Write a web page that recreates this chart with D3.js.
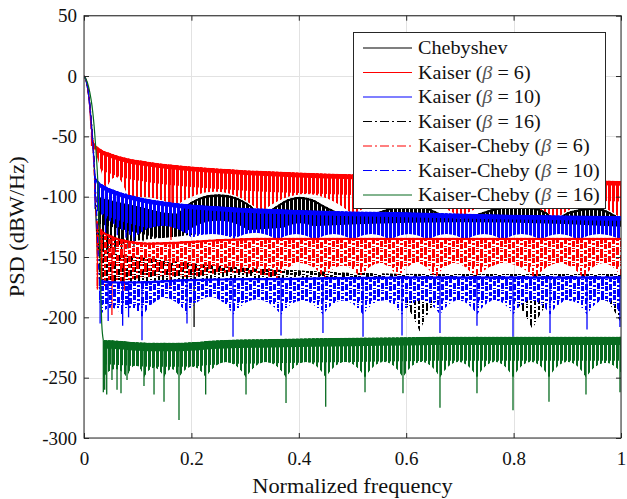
<!DOCTYPE html>
<html>
<head>
<meta charset="utf-8">
<script src="https://cdn.jsdelivr.net/npm/d3@7"></script>
<style>
  body { margin: 0; background: #fff; }
  svg { display: block; }
  text { font-family: "Liberation Serif", "Times New Roman", serif; }
</style>
</head>
<body>
<svg id="chart" width="627" height="499"></svg>
<script>
// ---------- axis ticks ----------
const xTicks = [0, 0.2, 0.4, 0.6, 0.8, 1];
const yTicks = [50, 0, -50, -100, -150, -200, -250, -300];
const xTickLabels = ["0", "0.2", "0.4", "0.6", "0.8", "1"];

// ---------- series names (legend order = drawing order) ----------
const seriesNames = [
  "Chebyshev",
  "Kaiser (β = 6)",
  "Kaiser (β = 10)",
  "Kaiser (β = 16)",
  "Kaiser-Cheby (β = 6)",
  "Kaiser-Cheby (β = 10)",
  "Kaiser-Cheby (β = 16)"
];

// Each spectrum: main lobe [f, dB], upper sidelobe envelope [f, dB],
// scalloped floor (cusp frequencies, cusp levels, arch-top levels),
// and isolated deep nulls (frequency, depth).

// Chebyshev
const chebyLobe = [[0,0],[0.004,-4],[0.008,-14],[0.012,-30],[0.016,-52],[0.019,-75],[0.021,-100],[0.023,-125],[0.025,-148]];
const chebyUpper = [[0.025,-100],[0.06,-104],[0.1,-108],[0.17,-114],[0.19,-107],[0.22,-100],[0.25,-98],[0.28,-100],[0.31,-107],[0.33,-114],[0.36,-107],[0.38,-102],[0.402,-100],[0.425,-102],[0.45,-108],[0.5,-116],[0.565,-110],[0.59,-105],[0.607,-104],[0.625,-105],[0.645,-110],[0.7,-118],[0.747,-112],[0.78,-108],[0.803,-107],[0.83,-108],[0.858,-112],[0.88,-118],[0.9,-113],[0.925,-110],[0.946,-109],[0.965,-110],[0.98,-113],[1,-118]];
const chebyCuspF = [0.025, 0.11, 1];
const chebyCuspDb = [-148, -136, -125];
const chebyDomeDb = [-140, -122];
const chebySpikeF = [0.03, 0.045, 0.058, 0.07, 0.082, 0.093, 0.11];
const chebySpikeDb = [-150, -148, -146, -147, -143, -142, -137];

// Kaiser beta = 6
const k6Lobe = [[0,0],[0.004,-3],[0.008,-12],[0.011,-27],[0.013,-44]];
const k6Upper = [[0.013,-44],[0.016,-52],[0.02,-56],[0.03,-60],[0.05,-64],[0.08,-68],[0.12,-71],[0.2,-75],[0.3,-78],[0.4,-80],[0.5,-81.5],[0.6,-83],[0.7,-84],[0.8,-85],[0.9,-86],[1,-87]];
const k6CuspF = [0.013, 0.04, 0.082, 0.17, 0.33, 0.5, 0.7, 0.88, 1];
const k6CuspDb = [-55, -96, -102, -108, -113, -115, -117, -118, -118];
const k6DomeDb = [-70, -84, -101, -96, -98, -102, -105, -107];
const k6SpikeF = [0.014, 0.017, 0.162];
const k6SpikeDb = [-58, -62, -136];

// Kaiser beta = 10
const k10Lobe = [[0,0],[0.004,-4],[0.008,-14],[0.012,-32],[0.015,-50],[0.018,-68],[0.019,-76]];
const k10Upper = [[0.019,-76],[0.022,-83],[0.027,-87],[0.035,-90],[0.06,-95],[0.1,-100],[0.15,-104],[0.25,-108],[0.4,-111],[0.6,-113],[0.8,-115],[1,-116]];
const k10CuspF = [0.019, 0.093, 0.2, 0.28, 0.36, 0.43, 0.5, 0.57, 0.64, 0.71, 0.78, 0.85, 0.92, 1];
const k10CuspDb = [-110, -134, -134, -135, -136, -136, -136, -136, -136, -136, -136, -136, -136, -136];
const k10DomeDb = [-123, -124, -131, -130, -131, -131, -131, -131, -131, -131, -131, -131, -131];
const k10SpikeF = [0.04, 0.062, 0.078, 0.093];
const k10SpikeDb = [-130, -132, -134, -138];

// Kaiser beta = 16
const k16Lobe = [[0,0],[0.005,-5],[0.01,-20],[0.015,-45],[0.019,-72],[0.022,-100],[0.025,-128],[0.027,-142]];
const k16Upper = [[0.027,-142],[0.04,-145],[0.07,-148],[0.12,-151],[0.2,-155],[0.3,-159],[0.4,-161],[0.5,-163],[0.7,-164],[1,-164]];
const k16CuspF = [0.027, 0.58, 0.625, 0.67, 0.79, 0.835, 0.88, 0.96, 1];
const k16CuspDb = [-176, -180, -212, -180, -180, -210, -180, -180, -205];
const k16DomeDb = [-178, -192, -192, -180, -192, -192, -180, -190];
const k16SpikeF = [0.205];
const k16SpikeDb = [-208];

// Kaiser-Chebyshev beta = 6
const kc6Lobe = [[0,0],[0.004,-4],[0.008,-14],[0.012,-32],[0.016,-55],[0.019,-80],[0.021,-100],[0.023,-118]];
const kc6Upper = [[0.023,-118],[0.03,-126],[0.05,-132],[0.08,-136],[0.12,-138],[0.18,-137],[0.25,-135],[0.35,-134],[0.5,-134],[0.7,-134],[1,-134]];
const kc6CuspF = [0.023, 0.2, 0.36, 0.448, 0.515, 0.585, 0.654, 0.728, 0.84, 0.93, 1];
const kc6CuspDb = [-176, -167, -168, -168, -168, -168, -168, -168, -168, -168, -166];
const kc6DomeDb = [-167, -163, -155, -157, -155, -155, -155, -155, -155, -155];
const kc6SpikeF = [0.025, 0.033, 0.052, 0.075, 0.16];
const kc6SpikeDb = [-177, -172, -198, -178, -175];

// Kaiser-Chebyshev beta = 10
const kc10Lobe = [[0,0],[0.005,-5],[0.01,-20],[0.014,-40],[0.018,-65],[0.022,-100],[0.025,-130],[0.028,-168]];
const kc10Upper = [[0.028,-168],[0.05,-170],[0.1,-170],[0.2,-168],[0.4,-167],[0.6,-166],[1,-166]];
const kc10CuspF = [0.028, 0.07, 0.108, 0.1918, 0.2775, 0.3669, 0.445, 0.5196, 0.5922, 0.6629, 0.7318, 0.7989, 0.8678, 0.9367, 1];
const kc10CuspDb = [-200, -198, -200, -198, -198, -198, -198, -198, -198, -198, -198, -198, -198, -198, -198];
const kc10DomeDb = [-192, -192, -184, -183, -185, -186, -186, -186, -186, -186, -186, -186, -186, -186];
const kc10SpikeF = [0.03, 0.045, 0.072, 0.083, 0.108, 0.1918, 0.2775, 0.3669, 0.445, 0.5196, 0.5922, 0.6629, 0.7318, 0.7989, 0.8678, 0.9367, 0.998];
const kc10SpikeDb = [-205, -203, -207, -200, -219, -205, -216, -215, -213, -216, -215, -213, -207, -216, -213, -210, -208];

// Kaiser-Chebyshev beta = 16
const kc16Lobe = [[0,0],[0.006,-5],[0.011,-14],[0.015,-25],[0.019,-42],[0.022,-60],[0.026,-90],[0.03,-150],[0.033,-205],[0.036,-219]];
const kc16Upper = [[0.036,-219],[0.05,-219],[0.08,-220],[0.12,-221],[0.18,-221],[0.25,-219],[0.35,-218],[0.5,-217],[0.7,-216],[1,-216]];
const kc16CuspF = [0.036, 0.0801, 0.1117, 0.149, 0.1769, 0.2266, 0.3017, 0.3762, 0.4501, 0.5233, 0.594, 0.6629, 0.7318, 0.7989, 0.8659, 0.9348, 1];
const kc16CuspDb = [-250, -250, -250, -250, -250, -250, -250, -250, -250, -250, -250, -250, -250, -250, -250, -250, -246];
const kc16DomeDb = [-243, -240, -242, -243, -241, -237, -237, -237, -237, -237, -237, -237, -237, -237, -237, -238];
const kc16SpikeF = [0.036, 0.0385, 0.0423, 0.0521, 0.0615, 0.0689, 0.0801, 0.1117, 0.1304, 0.149, 0.1769, 0.2266, 0.3017, 0.3762, 0.4501, 0.5233, 0.594, 0.6629, 0.7318, 0.7989, 0.8659, 0.9348, 0.9981];
const kc16SpikeDb = [-262, -260, -264, -252, -260, -263, -252, -257, -264, -270, -285, -264, -264, -271, -274, -262, -263, -275, -263, -277, -270, -264, -262];

// ---------- styles ----------
// core: solid depth (dB) under the upper envelope; dense: depth of the tight hatching
const seriesStyles = [
  { color: "#000000", dashed: false, offset: 2, core: 2, dense: 22 },
  { color: "#ff0000", dashed: false, offset: 0, core: 4, dense: 17 },
  { color: "#0000ff", dashed: false, offset: 1, core: 4, dense: 24 },
  { color: "#000000", dashed: true,  offset: 2, core: 0, dense: 4 },
  { color: "#ff0000", dashed: true,  offset: 0, core: 2, dense: 24 },
  { color: "#0000ff", dashed: true,  offset: 1, core: 2, dense: 20 },
  { color: "#076b1f", dashed: false, offset: 0, core: 7, dense: 20 }
];

const seriesData = [
  { lobe: chebyLobe, upper: chebyUpper, cuspF: chebyCuspF, cuspDb: chebyCuspDb, domeDb: chebyDomeDb, spikeF: chebySpikeF, spikeDb: chebySpikeDb },
  { lobe: k6Lobe, upper: k6Upper, cuspF: k6CuspF, cuspDb: k6CuspDb, domeDb: k6DomeDb, spikeF: k6SpikeF, spikeDb: k6SpikeDb },
  { lobe: k10Lobe, upper: k10Upper, cuspF: k10CuspF, cuspDb: k10CuspDb, domeDb: k10DomeDb, spikeF: k10SpikeF, spikeDb: k10SpikeDb },
  { lobe: k16Lobe, upper: k16Upper, cuspF: k16CuspF, cuspDb: k16CuspDb, domeDb: k16DomeDb, spikeF: k16SpikeF, spikeDb: k16SpikeDb },
  { lobe: kc6Lobe, upper: kc6Upper, cuspF: kc6CuspF, cuspDb: kc6CuspDb, domeDb: kc6DomeDb, spikeF: kc6SpikeF, spikeDb: kc6SpikeDb },
  { lobe: kc10Lobe, upper: kc10Upper, cuspF: kc10CuspF, cuspDb: kc10CuspDb, domeDb: kc10DomeDb, spikeF: kc10SpikeF, spikeDb: kc10SpikeDb },
  { lobe: kc16Lobe, upper: kc16Upper, cuspF: kc16CuspF, cuspDb: kc16CuspDb, domeDb: kc16DomeDb, spikeF: kc16SpikeF, spikeDb: kc16SpikeDb }
];

// ---------- layout ----------
const W = 627, H = 499;
const svg = d3.select("#chart");
svg.append("rect").attr("width", W).attr("height", H).attr("fill", "#fff");

const x = d3.scaleLinear().domain([0, 1]).range([84, 621]);
const y = d3.scaleLinear().domain([-300, 50]).range([438, 15.7]);
const [px0, px1] = x.range();
const [pyB, pyT] = y.range();
const ink = "#262626";

const defs = svg.append("defs");
defs.append("clipPath").attr("id", "plotClip")
  .append("rect").attr("x", px0).attr("y", pyT).attr("width", px1 - px0).attr("height", pyB - pyT);

// hatching textures: vertical strokes on a 4 px pitch; dash-dot series get
// staggered breaks across several columns so the texture reads as speckle
const dashCells = [
  [0, 0, 6], [0, 7, 2], [0, 11, 3],
  [4, 2, 3], [4, 6, 5], [4, 13, 1],
  [8, 0, 2], [8, 4, 6], [8, 12, 2],
  [12, 1, 5], [12, 8, 1], [12, 10, 4],
  [16, 0, 3], [16, 5, 2], [16, 9, 5],
  [20, 3, 6], [20, 10, 1], [20, 12, 2]
];
seriesStyles.forEach((s, i) => {
  [["dense", 3], ["sparse", 2]].forEach(([kind, w]) => {
    const p = defs.append("pattern")
      .attr("id", `${kind}${i}`)
      .attr("patternUnits", "userSpaceOnUse")
      .attr("patternTransform", `translate(${s.offset},0)`);
    let rects;
    if (s.dashed) {
      p.attr("width", 24).attr("height", 14);
      rects = dashCells;
    } else {
      p.attr("width", 4).attr("height", 2);
      rects = [[0, 0, 2]];
    }
    rects.forEach(([rx, ry, rh]) => {
      p.append("rect").attr("x", rx).attr("y", ry).attr("width", w).attr("height", rh)
        .attr("fill", s.color).attr("shape-rendering", "crispEdges");
    });
  });
});

// ---------- grid ----------
const grid = svg.append("g").attr("stroke", "#e2e2e2").attr("stroke-width", 1);
grid.selectAll("line.gx").data(xTicks).join("line")
  .attr("x1", d => Math.round(x(d)) + 0.5).attr("x2", d => Math.round(x(d)) + 0.5)
  .attr("y1", pyT).attr("y2", pyB);
grid.selectAll("line.gy").data(yTicks).join("line")
  .attr("y1", d => Math.round(y(d)) + 0.5).attr("y2", d => Math.round(y(d)) + 0.5)
  .attr("x1", px0).attr("x2", px1);

// ---------- spectra ----------
const plot = svg.append("g").attr("clip-path", "url(#plotClip)");

const upperLine = d3.line().x(d => x(d[0])).y(d => y(d[1])).curve(d3.curveMonotoneX);

function bandPath(sd) {
  let d = upperLine(sd.upper);
  const n = sd.cuspF.length;
  d += `L${x(sd.cuspF[n - 1])},${y(sd.cuspDb[n - 1])}`;
  for (let i = n - 2; i >= 0; i--) {
    const xa = x(sd.cuspF[i + 1]), xb = x(sd.cuspF[i]);
    const ya = y(sd.cuspDb[i + 1]), yb = y(sd.cuspDb[i]);
    const cx = (xa + xb) / 2;
    const cy = 2 * y(sd.domeDb[i]) - (ya + yb) / 2;
    d += `Q${cx},${cy} ${xb},${yb}`;
  }
  return d + "Z";
}

function levelAt(pts, f) {
  const i = d3.bisector(d => d[0]).right(pts, f);
  if (i <= 0) return pts[0][1];
  if (i >= pts.length) return pts[pts.length - 1][1];
  const a = pts[i - 1], b = pts[i];
  return a[1] + (f - a[0]) / (b[0] - a[0]) * (b[1] - a[1]);
}

seriesData.forEach((sd, i) => {
  const s = seriesStyles[i];
  const g = plot.append("g");
  const bd = bandPath(sd);
  defs.append("clipPath").attr("id", `band${i}`).append("path").attr("d", bd);

  const bg = g.append("g").attr("clip-path", `url(#band${i})`);
  bg.append("path").attr("d", bd).attr("fill", `url(#sparse${i})`);
  bg.append("path")
    .attr("d", d3.area().x(d => x(d[0])).y0(d => y(d[1] - s.dense)).y1(d => y(d[1])).curve(d3.curveMonotoneX)(sd.upper))
    .attr("fill", `url(#dense${i})`);
  if (s.core > 0) {
    bg.append("path")
      .attr("d", d3.area().x(d => x(d[0])).y0(d => y(d[1] - s.core)).y1(d => y(d[1])).curve(d3.curveMonotoneX)(sd.upper))
      .attr("fill", s.color);
  }

  g.selectAll("line.spike").data(d3.zip(sd.spikeF, sd.spikeDb)).join("line")
    .attr("x1", d => x(d[0])).attr("x2", d => x(d[0]))
    .attr("y1", d => y(levelAt(sd.upper, d[0])))
    .attr("y2", d => y(d[1]))
    .attr("stroke", s.color).attr("stroke-width", 1.3);

  g.append("path")
    .attr("d", upperLine(sd.lobe))
    .attr("fill", "none").attr("stroke", s.color).attr("stroke-width", 1.2)
    .attr("stroke-dasharray", s.dashed ? "6,3,1.5,3" : null);
});

// ---------- axes ----------
const axFont = 19;
const gx = svg.append("g").attr("transform", `translate(0,${pyB})`)
  .call(d3.axisBottom(x).tickValues(xTicks).tickFormat((d, i) => xTickLabels[i]).tickSize(-5).tickPadding(14));
const gxTop = svg.append("g").attr("transform", `translate(0,${pyT})`)
  .call(d3.axisTop(x).tickValues(xTicks).tickFormat("").tickSize(-5));
const gy = svg.append("g").attr("transform", `translate(${px0},0)`)
  .call(d3.axisLeft(y).tickValues(yTicks).tickFormat(d => String(d)).tickSize(-5).tickPadding(7));
const gyR = svg.append("g").attr("transform", `translate(${px1},0)`)
  .call(d3.axisRight(y).tickValues(yTicks).tickFormat("").tickSize(-5));
[gx, gxTop, gy, gyR].forEach(a => {
  a.select(".domain").remove();
  a.selectAll(".tick line").attr("stroke", ink);
  a.selectAll(".tick text").attr("fill", "#111").attr("font-size", axFont)
    .attr("font-family", '"Liberation Serif", "Times New Roman", serif');
});

svg.append("rect")
  .attr("x", px0).attr("y", pyT).attr("width", px1 - px0).attr("height", pyB - pyT)
  .attr("fill", "none").attr("stroke", ink).attr("stroke-width", 1);

svg.append("text").attr("transform", `translate(${(px0 + px1) / 2},493) scale(1.04,1)`)
  .attr("text-anchor", "middle").attr("font-size", 21.5).attr("fill", "#111")
  .text("Normalized frequency");
svg.append("text").attr("transform", `translate(24,${(pyT + pyB) / 2}) rotate(-90) scale(1.04,1)`)
  .attr("text-anchor", "middle").attr("font-size", 21.5).attr("fill", "#111")
  .text("PSD (dBW/Hz)");

// ---------- legend ----------
const lg = svg.append("g");
lg.append("rect").attr("x", 353.5).attr("y", 32.5).attr("width", 252).attr("height", 176)
  .attr("fill", "#fff").attr("stroke", ink).attr("stroke-width", 1);
seriesNames.forEach((name, i) => {
  const s = seriesStyles[i];
  const ry = 48 + i * 24.5;
  lg.append("line").attr("x1", 363).attr("x2", 412).attr("y1", ry).attr("y2", ry)
    .attr("stroke", s.color).attr("stroke-width", 1.2)
    .attr("stroke-dasharray", s.dashed ? "9,3,2,3" : null);
  const t = lg.append("text").attr("transform", `translate(418,${ry}) scale(1.09,1)`)
    .attr("dy", "0.33em").attr("font-size", 18.5).attr("fill", "#111");
  const k = name.indexOf("β");
  if (k < 0) {
    t.text(name);
  } else {
    t.append("tspan").text(name.slice(0, k));
    t.append("tspan").attr("font-style", "italic").attr("fill", "#555").text("β");
    t.append("tspan").text(name.slice(k + 1));
  }
});
</script>
</body>
</html>
